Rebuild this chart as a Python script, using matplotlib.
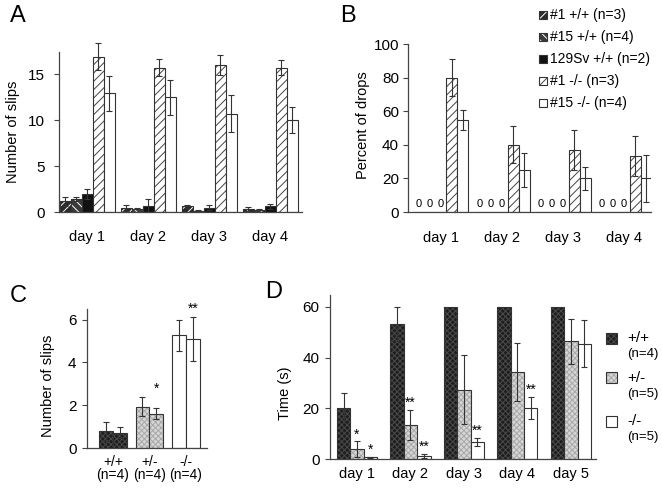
import matplotlib
matplotlib.use("Agg")
import matplotlib.pyplot as plt
import numpy as np
from matplotlib.patches import Rectangle

plt.rcParams["font.family"] = ["Liberation Sans", "DejaVu Sans"]
plt.rcParams["hatch.linewidth"] = 0.7

# panel A / B
days4 = ["day 1", "day 2", "day 3", "day 4"]
groups_ab = ["#1 +/+ (n=3)", "#15 +/+ (n=4)", "129Sv +/+ (n=2)", "#1 -/- (n=3)", "#15 -/- (n=4)"]
slips_a = [
    [1.15, 0.45, 0.6, 0.35],
    [1.45, 0.38, 0.15, 0.25],
    [1.95, 0.7, 0.47, 0.6],
    [16.9, 15.7, 16.0, 15.7],
    [12.9, 12.5, 10.7, 10.0],
]
slips_a_err = [
    [0.45, 0.3, 0.15, 0.2],
    [0.22, 0.05, 0.05, 0.05],
    [0.5, 0.7, 0.3, 0.3],
    [1.5, 0.9, 1.1, 0.8],
    [1.9, 1.9, 2.0, 1.4],
]
drops_b = [
    [0, 0, 0, 0],
    [0, 0, 0, 0],
    [0, 0, 0, 0],
    [80, 40, 37, 33.5],
    [55, 25, 20, 20],
]
drops_b_err = [
    [0, 0, 0, 0],
    [0, 0, 0, 0],
    [0, 0, 0, 0],
    [11, 11, 12, 12],
    [6, 10, 7, 14],
]

# panel C
genotypes_c = ["+/+", "+/-", "-/-"]
n_c = ["(n=4)", "(n=4)", "(n=4)"]
slips_c = [[0.78, 0.72], [1.93, 1.61], [5.27, 5.11]]
slips_c_err = [[0.44, 0.24], [0.45, 0.26], [0.73, 1.02]]
stars_c = ["", "*", "**"]

# panel D
days5 = ["day 1", "day 2", "day 3", "day 4", "day 5"]
genotypes_d = ["+/+", "+/-", "-/-"]
n_d = ["(n=4)", "(n=5)", "(n=5)"]
time_d = [
    [20.1, 53.4, 60, 60, 60],
    [3.95, 13.4, 27.4, 34.3, 46.4],
    [0.6, 1.2, 6.7, 20.1, 45.5],
]
time_d_err = [
    [5.8, 6.7, 0, 0, 0],
    [3.0, 5.9, 13.6, 11.6, 8.9],
    [0.3, 0.9, 1.6, 4.4, 9.4],
]
stars_d = [
    ["", "", "", "", ""],
    ["*", "**", "", "", ""],
    ["*", "**", "**", "**", ""],
]

EDGE = "#333333"
# (facecolor, hatch colour, hatch)
style_ab = [
    ("#2a2a2a", "white", "////"),
    ("#3a3a3a", "white", "\\\\\\\\"),
    ("#111111", None, None),
    ("white", "#444444", "////"),
    ("white", None, None),
]
style_cd = [
    ("#1e1e1e", "#4a4a4a", "xxxxxx"),
    ("#d6d6d6", "#a8a8a8", "xxxxxx"),
    ("white", None, None),
]

W, H = 662, 490
fig = plt.figure(figsize=(W / 100, H / 100), dpi=100)


def px_axes(x0, y0, x1, y1):
    return fig.add_axes([x0 / W, 1 - y1 / H, (x1 - x0) / W, (y1 - y0) / H])


def style_axis(ax, ypad):
    for side in ("top", "right"):
        ax.spines[side].set_visible(False)
    for side in ("left", "bottom"):
        ax.spines[side].set_color("#444444")
        ax.spines[side].set_linewidth(0.9)
    ax.tick_params(axis="x", length=0, labelsize=10.5)
    ax.tick_params(axis="y", length=3.5, width=0.8, color="#444444", labelsize=11, pad=ypad)


def draw_bars(ax, x, heights, width, style):
    face, hcolor, hatch = style
    if hatch:
        ax.bar(x, heights, width, color=face, edgecolor=hcolor, hatch=hatch, linewidth=0)
        ax.bar(x, heights, width, fill=False, edgecolor=EDGE, linewidth=0.8)
    else:
        ax.bar(x, heights, width, color=face, edgecolor=EDGE, linewidth=0.8)


def draw_err(ax, x, heights, errs):
    x = np.asarray(x, dtype=float)
    heights = np.asarray(heights, dtype=float)
    errs = np.asarray(errs, dtype=float)
    keep = errs > 0
    if not keep.any():
        return
    cont = ax.errorbar(x[keep], heights[keep], yerr=errs[keep], fmt="none", ecolor="#333333",
                       elinewidth=0.8, capsize=2, capthick=0.8)
    for art in list(cont.lines[1]) + list(cont.lines[2]):
        art.set_clip_on(False)


def legend_patch(x, y, size, style):
    face, hcolor, hatch = style
    if hatch:
        fig.add_artist(Rectangle((x / W, 1 - (y + size / 2) / H), size / W, size / H,
                                 transform=fig.transFigure, facecolor=face,
                                 edgecolor=hcolor, hatch=hatch, linewidth=0))
    fig.add_artist(Rectangle((x / W, 1 - (y + size / 2) / H), size / W, size / H,
                             transform=fig.transFigure, fill=(hatch is None),
                             facecolor=face, edgecolor=EDGE, linewidth=0.8))


# ---- A ----
ax_a = px_axes(59, 52, 302, 212)
bw = 0.18
xa = np.arange(len(days4))
for k, (vals, errs) in enumerate(zip(slips_a, slips_a_err)):
    pos = xa + (k - 2) * bw
    draw_bars(ax_a, pos, vals, bw, style_ab[k])
    draw_err(ax_a, pos, vals, errs)
ax_a.set_xlim(-0.46, 3.52)
ax_a.set_ylim(0, 17.4)
ax_a.set_yticks([0, 5, 10, 15])
ax_a.set_xticks(xa)
ax_a.set_xticklabels(days4)
style_axis(ax_a, 7)
ax_a.tick_params(axis="x", pad=13)
ax_a.set_ylabel("Number of slips", fontsize=10.5)
ax_a.yaxis.set_label_coords(-0.16, 0.5)

# ---- B ----
ax_b = px_axes(408, 44, 651, 212)
xb = np.arange(len(days4))
for k, (vals, errs) in enumerate(zip(drops_b, drops_b_err)):
    pos = xb + (k - 2) * bw
    draw_bars(ax_b, pos, vals, bw, style_ab[k])
    draw_err(ax_b, pos, vals, errs)
    for p, v in zip(pos, vals):
        if v == 0:
            ax_b.annotate("0", (p, 0), xytext=(0, 2), textcoords="offset points",
                          ha="center", va="bottom", fontsize=8)
ax_b.set_xlim(-0.54, 3.44)
ax_b.set_ylim(0, 100)
ax_b.set_yticks([0, 20, 40, 60, 80, 100])
ax_b.set_xticks(xb)
ax_b.set_xticklabels(days4)
style_axis(ax_b, 3)
ax_b.tick_params(axis="x", pad=14)
ax_b.set_ylabel("Percent of drops", fontsize=10.5)
ax_b.yaxis.set_label_coords(-0.155, 0.52)

for i, (label, st) in enumerate(zip(groups_ab, style_ab)):
    yc = 15 + 22 * i
    legend_patch(539, yc, 8, st)
    fig.text(550 / W, 1 - yc / H, label, fontsize=10, va="center", ha="left")

# ---- C ----
ax_c = px_axes(87, 309, 207, 448)
bwc = 0.38
xc = np.arange(len(genotypes_c))
for g in range(len(genotypes_c)):
    for k in range(2):
        pos = xc[g] + (k - 0.5) * bwc
        draw_bars(ax_c, [pos], [slips_c[g][k]], bwc, style_cd[g])
        draw_err(ax_c, [pos], [slips_c[g][k]], [slips_c_err[g][k]])
    if stars_c[g]:
        top = max(v + e for v, e in zip(slips_c[g], slips_c_err[g]))
        ax_c.annotate(stars_c[g], (xc[g] + 0.5 * bwc, top), xytext=(0, 1),
                      textcoords="offset points", ha="center", va="bottom", fontsize=10)
ax_c.set_xlim(-0.71, 2.58)
ax_c.set_ylim(0, 6.5)
ax_c.set_yticks([0, 2, 4, 6])
ax_c.set_xticks(xc)
ax_c.set_xticklabels([f"{g}\n{n}" for g, n in zip(genotypes_c, n_c)], linespacing=0.95)
style_axis(ax_c, 4)
ax_c.tick_params(axis="x", pad=5, labelsize=10)
ax_c.set_ylabel("Number of slips", fontsize=10.5)
ax_c.yaxis.set_label_coords(-0.27, 0.45)

# ---- D ----
ax_d = px_axes(330, 295, 596, 459)
bwd = 0.25
xd = np.arange(len(days5))
for k in range(len(genotypes_d)):
    pos = xd + (k - 1) * bwd
    draw_bars(ax_d, pos, time_d[k], bwd, style_cd[k])
    draw_err(ax_d, pos, time_d[k], time_d_err[k])
    for p, v, e, s in zip(pos, time_d[k], time_d_err[k], stars_d[k]):
        if s:
            ax_d.annotate(s, (p, v + e), xytext=(0, 0), textcoords="offset points",
                          ha="center", va="bottom", fontsize=10)
ax_d.set_xlim(-0.505, 4.47)
ax_d.set_ylim(0, 64.7)
ax_d.set_yticks([0, 20, 40, 60])
ax_d.set_xticks(xd)
ax_d.set_xticklabels(days5)
style_axis(ax_d, 4)
ax_d.tick_params(axis="x", pad=6)
ax_d.set_ylabel("Time (s)", fontsize=10.5)
ax_d.yaxis.set_label_coords(-0.143, 0.40)

for i, (g, n, st) in enumerate(zip(genotypes_d, n_d, style_cd)):
    yc = [338, 378, 421][i]
    legend_patch(606, yc, 11, st)
    fig.text(627 / W, 1 - yc / H, g, fontsize=11, va="center", ha="left")
    fig.text(627 / W, 1 - (yc + 16) / H, n, fontsize=9.5, va="center", ha="left")

# panel letters
for letter, x, y in [("A", 10, 22), ("B", 340, 22), ("C", 10, 302), ("D", 265, 298)]:
    fig.text(x / W, 1 - y / H, letter, fontsize=17, va="baseline", ha="left")

fig.savefig("out.png", dpi=100)
